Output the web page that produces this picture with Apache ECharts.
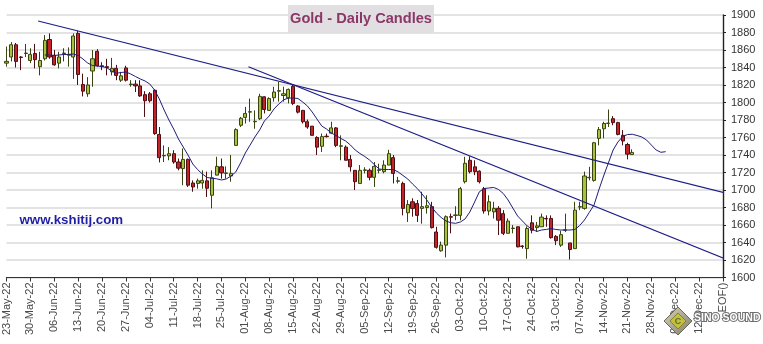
<!DOCTYPE html>
<html>
<head>
<meta charset="utf-8">
<title>Gold - Daily Candles</title>
<script src="https://cdn.jsdelivr.net/npm/echarts@6/dist/echarts.min.js"></script>
<style>
  html, body { margin: 0; padding: 0; background: #ffffff; }
  #chart { width: 763px; height: 344px; }
</style>
</head>
<body>
<div id="chart"></div>
<script>
// Weekly tick labels, one every 5 trading days starting 23-May-22
const tickLabels = ['23-May-22','30-May-22','06-Jun-22','13-Jun-22','20-Jun-22','27-Jun-22','04-Jul-22','11-Jul-22','18-Jul-22','25-Jul-22','01-Aug-22','08-Aug-22','15-Aug-22','22-Aug-22','29-Aug-22','05-Sep-22','12-Sep-22','19-Sep-22','26-Sep-22','03-Oct-22','10-Oct-22','17-Oct-22','24-Oct-22','31-Oct-22','07-Nov-22','14-Nov-22','21-Nov-22','28-Nov-22','05-Dec-22','12-Dec-22','EOF()'];

// Daily OHLC, index = trading day counted from 23-May-22
const openVals = [1845,1852,1866,1852,1856,1848,1856,1841,1850,1872,1854,1845,1856,1854,1852,1879,1820.5,1810,1836,1858.5,
  1842,1841,1835,1839,1825.5,1839.5,1820.5,1821,1819,1809,1810,1814,1763.5,1739,1739,1741.5,1732,1724.5,1735,1708,
  1707.5,1708,1710.5,1694,1717,1726.5,1719,1716,1751,1774,1783,1789,1778,1781.5,1806.5,1791,1805.5,1813,1808,1805.5,
  1818.5,1796,1791,1778,1773,1760,1750,1761.5,1765,1771,1750,1749,1735,1722.5,1707.5,1722.5,1722.5,1714.5,1722.5,1721,
  1728.5,1737,1710,1707.5,1674,1686.5,1684.5,1679,1680,1681,1652,1630.5,1637,1669.5,1671,1671,1709.5,1734,1726.5,1721.5,
  1701.5,1676,1675,1679,1673,1650.5,1656,1658,1636,1633,1662.5,1657,1658,1667.5,1667.5,1647,1637,1654,1639.5,1633,
  1680.5,1679,1714,1711,1759,1770,1776,1781.5,1777,1762.5,1752,1740.5];
const closeVals = [1847,1866,1847,1851.5,1856.5,1855,1849,1848,1871,1852,1843,1852,1856.5,1855,1876,1832,1813,1820,1850,1842,
  1841,1840,1839,1831,1830.5,1825.5,1821,1819,1807.5,1802,1802,1764.5,1737,1739.5,1741.5,1732,1725,1735,1705.5,1703.5,
  1710.5,1711,1702,1714,1727,1719.5,1719.5,1719,1769,1782,1787.5,1789.5,1778.5,1807,1792,1804.5,1812,1813.5,1810,1815,
  1799,1789,1778,1772,1762.5,1749,1761,1761,1771,1751,1750.5,1734,1726.5,1709.5,1722.5,1723,1714.5,1727,1723,1728.5,
  1741.5,1719,1710.5,1679,1683.5,1679,1671,1681,1682,1657,1634.5,1637,1669.5,1669,1671.5,1701.5,1730.5,1721,1721,1709.5,
  1676,1686.5,1679,1665.5,1650.5,1664.5,1656.5,1635,1635.5,1656,1654,1659,1669,1667,1645.5,1642,1649,1654.5,1632,1677,
  1681,1716,1714.5,1754,1769,1776,1776.5,1777,1763.5,1756,1741,1743];
const lowVals = [1841,1847,1840,1837,1852,1845,1839,1831,1848,1850,1842,1839,1847,1841,1827,1820,1807,1806.5,1818,1841,
  1837,1831,1831,1825.5,1823.5,1824,1818,1812,1806.5,1783.5,1800,1763,1731.5,1732,1734,1730,1722.5,1705.5,1703.5,1698,
  1701.5,1701.5,1692,1679,1717,1713,1713,1709.5,1751,1772,1776,1778,1770,1780,1787.5,1790.5,1801,1801,1801,1799,
  1797,1787.5,1776,1770,1762.5,1740,1743.5,1760,1764.5,1749,1734,1734,1721,1700,1707.5,1719,1711,1703.5,1719,1719,
  1728.5,1707.5,1707.5,1671,1663.5,1669.5,1663.5,1661.5,1673,1656,1633,1629.5,1623,1650.5,1665.5,1665.5,1707.5,1719,1717,1707.5,
  1673,1671,1667.5,1648.5,1648.5,1650.5,1650.5,1634.5,1633,1621.5,1650.5,1652,1658,1658,1644.5,1637,1635,1652,1620.5,1633,
  1677,1677.5,1711,1709.5,1751,1759,1772,1774,1762.5,1751,1735,1740.5];
const highVals = [1864,1869,1868,1853,1867,1862,1867,1858,1877,1879,1860,1858,1862,1863,1879,1882,1833,1829,1860,1861,
  1846,1850,1851,1843,1835,1842,1825.5,1825.5,1825.5,1813,1812,1815,1772,1751,1749,1745.5,1736,1747.5,1736,1711,
  1713,1722.5,1721,1722.5,1738,1736,1727,1740,1770.5,1783.5,1795,1804.5,1791,1810,1807,1806,1818,1823.5,1818,1816,
  1820,1797,1791.5,1780.5,1773,1761.5,1764.5,1764.5,1778,1772,1762.5,1751,1740,1722.5,1728.5,1726,1724.5,1732,1730,1734,
  1746,1740,1715,1709.5,1688.5,1690.5,1688.5,1698,1694,1686.5,1658,1641,1671,1673,1681.5,1703.5,1738,1738.5,1734,1722.5,
  1703.5,1694,1686.5,1681.5,1677,1667.5,1660,1658,1637,1658.5,1671,1663.5,1673,1671,1671,1648.5,1653.5,1673,1639.5,1686.5,
  1686.5,1721,1726.5,1755,1772,1778,1792,1784.5,1778,1768.5,1754,1746.5];

// Moving average line, first value at trading day maStart, projected a few days ahead
const maStart = 8;
const maVals = [1854.3,1854.3,1853.7,1854.3,1854.9,1854.9,1855.4,1853.7,1849.7,1845.1,1842.3,1841.7,1841.1,1839.8,1836,1833.4,1834.3,1834.9,1832.6,1829.7,
  1826.9,1824.6,1821.1,1814.3,1804,1791.4,1780,1769.7,1758.3,1749.1,1740,1729.7,1723.4,1718.3,1714.3,1713.4,1712.8,1711.4,1712.6,1716,
  1720.6,1730.9,1742.3,1751.4,1760.6,1768.6,1778.9,1784.6,1792.6,1798.3,1802.9,1805.1,1805.1,1804.6,1800.6,1796,1789.1,1781.1,1773.1,1769.7,
  1765.1,1762.3,1758.9,1756,1751.4,1745.7,1741.7,1738.3,1734.3,1729.1,1724,1723.4,1723.4,1723.4,1720.6,1716.6,1712.6,1706.9,1701.7,1695.4,
  1688.6,1680.6,1673.7,1668.6,1664.6,1662.6,1661.9,1663.4,1666.9,1674.9,1686.3,1698,1701.7,1702.3,1702.9,1700.6,1696,1688.6,1679.4,1670.3,
  1664.6,1658.9,1655.4,1652.6,1654.3,1654.9,1656,1654.9,1654.3,1654.3,1654.3,1654.9,1659.4,1665.7,1674.3,1682.9,1700,1716,1730.9,1745.7,
  1754.9,1761.1,1763.4,1763.7,1762.3,1760.6,1757.1,1751.4,1745.7,1743.1,1743.8];

// Trend lines: [trading day, price] end points
const trendUpper = [[6.62, 1893.1], [154.1, 1691.7]];
const trendLower = [[50.65, 1840.9], [151.3, 1619.4]];

const candleData = openVals.map((o, k) => [k, o, closeVals[k], lowVals[k], highVals[k]]);
const maData = maVals.map((v, i) => [maStart + i, v]);

const FONT = '"Liberation Sans", Arial, sans-serif';
const chart = echarts.init(document.getElementById('chart'), null, { renderer: 'canvas' });

chart.setOption({
  backgroundColor: '#ffffff',
  animation: false,
  grid: { left: 6.5, right: 40, top: 15, bottom: 66.5 },
  xAxis: {
    type: 'value',
    min: 0,
    max: 150,
    interval: 5,
    splitLine: { show: false },
    axisLine: { onZero: false, lineStyle: { color: '#333333', width: 1.2 } },
    axisTick: { show: true, length: 4, lineStyle: { color: '#333333', width: 1 } },
    axisLabel: {
      rotate: 90,
      margin: 5,
      fontSize: 11,
      fontFamily: FONT,
      color: '#4a4a4a',
      formatter: v => tickLabels[Math.round(v / 5)] || ''
    }
  },
  yAxis: {
    type: 'value',
    position: 'right',
    min: 1600,
    max: 1900,
    interval: 20,
    axisLine: { show: true, onZero: false, lineStyle: { color: '#222222', width: 1.4 } },
    axisTick: { show: true, length: 3, lineStyle: { color: '#222222' } },
    axisLabel: { margin: 8, fontSize: 11, fontFamily: FONT, color: '#333333', formatter: v => String(v) },
    splitLine: { show: true, lineStyle: { color: '#dadada', width: 1.5 } }
  },
  series: [
    {
      type: 'candlestick',
      data: candleData,
      barWidth: 3.6,
      itemStyle: {
        color: '#a9c23c',
        color0: '#c4232a',
        borderColor: '#3a4412',
        borderColor0: '#4c1014',
        borderWidth: 1
      },
      z: 2
    },
    {
      type: 'line',
      data: maData,
      symbol: 'none',
      lineStyle: { color: '#1e1e78', width: 1 },
      z: 3
    },
    {
      type: 'line',
      data: trendUpper,
      symbol: 'none',
      clip: false,
      lineStyle: { color: '#1c1c88', width: 1.2 },
      z: 3
    },
    {
      type: 'line',
      data: trendLower,
      symbol: 'none',
      clip: false,
      lineStyle: { color: '#1c1c88', width: 1.2 },
      z: 3
    }
  ],
  graphic: [
    { type: 'rect', shape: { x: 288, y: 5, width: 146, height: 28 }, style: { fill: '#e1dfe1' }, z: 10 },
    {
      type: 'text', x: 361, y: 19, z: 11,
      style: { text: 'Gold - Daily Candles', font: 'bold 14.6px ' + FONT, fill: '#8b3868', align: 'center', verticalAlign: 'middle' }
    },
    {
      type: 'text', x: 19.5, y: 220.5, z: 11,
      style: { text: 'www.kshitij.com', font: 'bold 13.3px ' + FONT, fill: '#1f1fa6', align: 'left', verticalAlign: 'middle' }
    },
    // corner logo
    {
      type: 'polygon', z: 20,
      shape: { points: [[678, 307], [692, 321], [678, 335], [664, 321]] },
      style: { fill: new echarts.graphic.LinearGradient(0, 0, 1, 1, [{ offset: 0, color: '#d8d6c4' }, { offset: 1, color: '#7d7a66' }]), stroke: '#6b6956', lineWidth: 1 }
    },
    {
      type: 'polygon', z: 21,
      shape: { points: [[678, 313], [686, 321], [678, 329], [670, 321]] },
      style: { fill: '#c8bd3c', stroke: '#8a8228', lineWidth: 1 }
    },
    {
      type: 'text', x: 678, y: 321.5, z: 22,
      style: { text: 'C', font: 'bold 9px ' + FONT, fill: '#3f7d32', align: 'center', verticalAlign: 'middle' }
    },
    {
      type: 'text', x: 694, y: 318, z: 22,
      style: { text: 'SINO SOUND', font: 'bold 10.5px ' + FONT, fill: '#ffffff', stroke: '#6f6f6f', lineWidth: 2, align: 'left', verticalAlign: 'middle' }
    }
  ]
});
</script>
</body>
</html>
